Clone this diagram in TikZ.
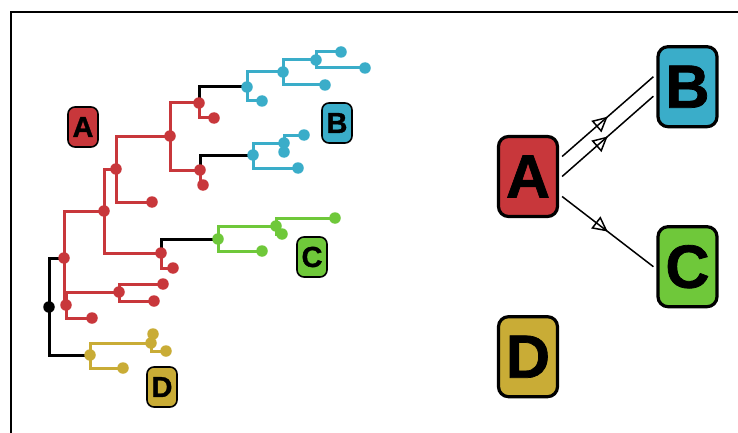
\documentclass[tikz,border=0pt]{standalone}
\usepackage{fontspec}
\setmainfont{Liberation Sans}
\newfontfamily\lblfont[BoldFeatures={FakeBold=1.2}]{Liberation Sans}
\usetikzlibrary{arrows.meta,decorations.markings,backgrounds}
\definecolor{cRed}{HTML}{C8373B}
\definecolor{cBlue}{HTML}{3AADC9}
\definecolor{cGreen}{HTML}{6FC83A}
\definecolor{cGold}{HTML}{C9AC36}
\tikzset{
  dot/.style={circle,fill=#1,inner sep=0pt,minimum size=11.5pt},
  edge/.style={draw=#1,line width=3pt},
  smallbox/.style={draw=black,line width=1.6pt,fill=#1,rounded corners=7pt,
    minimum width=30pt,minimum height=40pt,inner sep=0pt,
    font=\lblfont\fontsize{29}{29}\selectfont\bfseries},
  bigbox/.style={draw=black,line width=3.2pt,fill=#1,rounded corners=10pt,
    minimum width=59pt,minimum height=80pt,inner sep=0pt,
    font=\lblfont\fontsize{61}{61}\selectfont\bfseries},
  midarrow/.style={line width=1.5pt,decoration={markings,
    mark=at position 0.5 with {\arrow[line width=1.5pt]{Triangle[open,length=15pt,width=15pt]}}},
    postaction={decorate}}
}
\begin{document}
\begin{tikzpicture}[x=1pt,y=-1pt]
\useasboundingbox (0,0) rectangle (738,433);
\draw[line width=1.3pt] (11,433) -- (11,12) -- (738,12);

% tree nodes
\node[dot=black] (r0) at (49,307) {};
\node[dot=cRed] (r1) at (64,258) {};
\node[dot=cRed] (r2) at (104,211) {};
\node[dot=cRed] (r3) at (116,169) {};
\node[dot=cRed] (r4) at (170,136) {};
\node[dot=cRed] (r5) at (199,103) {};
\node[dot=cRed] (r5l) at (214,118) {};
\node[dot=cRed] (r6) at (200,170) {};
\node[dot=cRed] (r6l) at (203,185) {};
\node[dot=cRed] (r3l) at (152,202) {};
\node[dot=cRed] (r7) at (161,253) {};
\node[dot=cRed] (r7l) at (173,268) {};
\node[dot=cRed] (r8) at (66,305) {};
\node[dot=cRed] (r9) at (119,292) {};
\node[dot=cRed] (r9a) at (163,284) {};
\node[dot=cRed] (r9b) at (154,301) {};
\node[dot=cRed] (r8l) at (92,318) {};

\node[dot=cBlue] (b1) at (247,87) {};
\node[dot=cBlue] (b2) at (283,72) {};
\node[dot=cBlue] (b1l) at (262,101) {};
\node[dot=cBlue] (b3) at (316,60) {};
\node[dot=cBlue] (b2l) at (325,85) {};
\node[dot=cBlue] (b3a) at (341,52) {};
\node[dot=cBlue] (b3b) at (365,68) {};
\node[dot=cBlue] (b5) at (253,155) {};
\node[dot=cBlue] (b6) at (284,143) {};
\node[dot=cBlue] (b5l) at (298,168) {};
\node[dot=cBlue] (b6a) at (304,135) {};
\node[dot=cBlue] (b6b) at (284,152) {};

\node[dot=cGreen] (g1) at (218,239) {};
\node[dot=cGreen] (g2) at (276,226) {};
\node[dot=cGreen] (g1l) at (262,251) {};
\node[dot=cGreen] (g2a) at (335,218) {};
\node[dot=cGreen] (g2b) at (282,234) {};

\node[dot=cGold] (y1) at (90,355) {};
\node[dot=cGold] (y2) at (151,343) {};
\node[dot=cGold] (y1l) at (123,368) {};
\node[dot=cGold] (y2a) at (153,334) {};
\node[dot=cGold] (y2b) at (166,351) {};

\begin{scope}[on background layer]
\foreach \a/\b in {r0/r1,r0/y1,r5/b1,r6/b5,r7/g1}
  \path[edge=black] (\a.center) |- (\b.center);
\foreach \a/\b in {r1/r2,r1/r8,r2/r3,r2/r7,r3/r4,r3/r3l,r4/r5,r4/r6,r5/r5l,r6/r6l,r7/r7l,r8/r9,r8/r8l,r9/r9a,r9/r9b}
  \path[edge=cRed] (\a.center) |- (\b.center);
\foreach \a/\b in {b1/b2,b1/b1l,b2/b3,b2/b2l,b3/b3a,b3/b3b,b5/b6,b5/b5l,b6/b6a,b6/b6b}
  \path[edge=cBlue] (\a.center) |- (\b.center);
\foreach \a/\b in {g1/g2,g1/g1l,g2/g2a,g2/g2b}
  \path[edge=cGreen] (\a.center) |- (\b.center);
\foreach \a/\b in {y1/y2,y1/y1l,y2/y2a,y2/y2b}
  \path[edge=cGold] (\a.center) |- (\b.center);
\end{scope}

% small labels
\node[smallbox=cRed] (la) at (83,127) {A};
\node[smallbox=cBlue] (lb) at (337,123) {B};
\node[smallbox=cGreen] (lc) at (312,257) {C};
\node[smallbox=cGold] (ld) at (162,387) {D};

% big boxes
\node[bigbox=cRed] (A) at (528,176.5) {A};
\node[bigbox=cBlue] (B) at (687.5,86.7) {B};
\node[bigbox=cGreen] (C) at (687.5,266.7) {C};
\node[bigbox=cGold] (D) at (528,356.7) {D};

\draw[midarrow] ([shift={(3,-20)}]A.east) -- ([shift={(-3,-10)}]B.west);
\draw[midarrow] ([shift={(3,0)}]A.east) -- ([shift={(-3,9.5)}]B.west);
\draw[midarrow] ([shift={(3,20)}]A.east) -- ([shift={(-3,0)}]C.west);
\end{tikzpicture}
\end{document}
